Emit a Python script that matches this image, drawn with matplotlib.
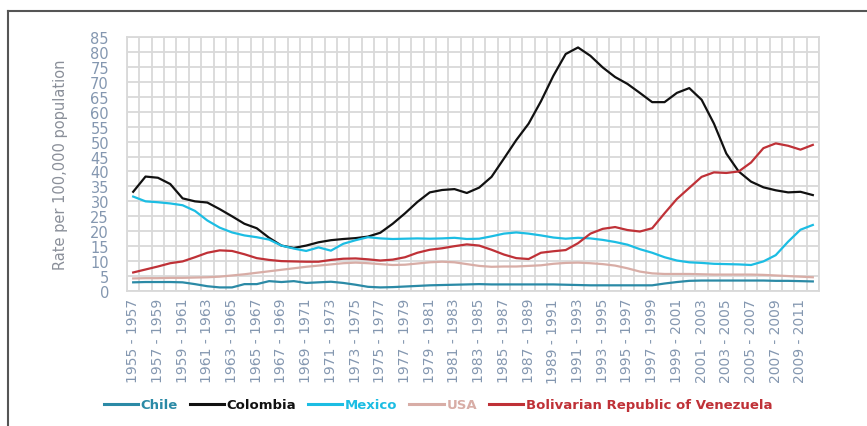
import numpy as np
import matplotlib
matplotlib.use("Agg")
import matplotlib.pyplot as plt
from matplotlib.lines import Line2D
from matplotlib.ticker import MultipleLocator, FixedLocator

period_starts = list(range(1955, 2011))
categories = [f"{s} - {s + 2}" for s in period_starts]

chile = [2.9, 3.0, 3.0, 3.0, 2.9, 2.3, 1.6, 1.2, 1.2, 2.3,
         2.3, 3.3, 3.0, 3.3, 2.7, 2.9, 3.1, 2.7, 2.1, 1.4,
         1.2, 1.3, 1.5, 1.7, 1.9, 2.0, 2.1, 2.2, 2.3, 2.2,
         2.2, 2.2, 2.2, 2.2, 2.2, 2.1, 2.0, 1.9, 1.9, 1.9,
         1.9, 1.9, 1.9, 2.5, 3.0, 3.4, 3.5, 3.5, 3.5, 3.5,
         3.5, 3.5, 3.4, 3.4, 3.3, 3.2]
colombia = [33.2, 38.3, 37.9, 35.8, 31.0, 30.0, 29.6, 27.4, 25.0, 22.5,
            21.0, 17.8, 15.2, 14.4, 15.2, 16.3, 17.0, 17.4, 17.7, 18.2,
            19.5, 22.5, 26.0, 29.8, 33.0, 33.8, 34.1, 32.8, 34.6, 38.2,
            44.3, 50.5, 56.0, 63.5, 72.0, 79.3, 81.5, 78.7, 74.8, 71.6,
            69.3, 66.3, 63.2, 63.2, 66.3, 67.9, 64.0, 56.0, 46.0, 40.0,
            36.6, 34.7, 33.7, 33.0, 33.2, 32.1]
mexico = [31.6, 30.0, 29.7, 29.3, 28.7, 26.8, 23.6, 21.2, 19.6, 18.6,
          18.0, 17.2, 15.2, 14.2, 13.4, 14.6, 13.5, 15.8, 17.0, 18.0,
          17.6, 17.4, 17.5, 17.6, 17.5, 17.6, 17.8, 17.4, 17.5, 18.3,
          19.2, 19.6, 19.2, 18.6, 17.9, 17.5, 17.8, 17.6, 17.1, 16.4,
          15.5, 14.0, 12.8, 11.3, 10.2, 9.6, 9.4, 9.1, 9.0, 8.9,
          8.7, 9.9, 12.0, 16.5, 20.5, 22.1]
usa = [4.2, 4.3, 4.3, 4.4, 4.4, 4.5, 4.6, 4.8, 5.2, 5.6,
       6.1, 6.6, 7.1, 7.6, 8.1, 8.5, 8.9, 9.3, 9.5, 9.3,
       9.0, 8.7, 8.8, 9.2, 9.6, 9.8, 9.6, 9.0, 8.4, 8.1,
       8.2, 8.2, 8.4, 8.6, 9.1, 9.4, 9.5, 9.3, 9.0, 8.5,
       7.6, 6.5, 5.9, 5.7, 5.7, 5.7, 5.6, 5.5, 5.5, 5.5,
       5.5, 5.4, 5.2, 5.0, 4.8, 4.6]
venezuela = [6.2, 7.2, 8.2, 9.3, 9.9, 11.3, 12.8, 13.6, 13.4, 12.3,
             11.0, 10.4, 10.0, 9.9, 9.8, 9.8, 10.4, 10.8, 10.9, 10.6,
             10.2, 10.5, 11.3, 12.8, 13.8, 14.3, 15.0, 15.6, 15.2, 13.8,
             12.2, 11.0, 10.7, 12.8, 13.3, 13.7, 16.0, 19.2, 20.8, 21.4,
             20.4, 19.9, 21.0, 26.0, 30.8, 34.5, 38.2, 39.7, 39.5, 40.0,
             43.0, 47.8, 49.4, 48.6, 47.3, 48.9]

series_names = ["Chile", "Colombia", "Mexico", "USA", "Bolivarian Republic of Venezuela"]
series_values = [chile, colombia, mexico, usa, venezuela]
series_colors = ["#2b8aa6", "#111111", "#1cbde3", "#d8ada6", "#bf3137"]

fig = plt.figure(figsize=(8.67, 4.27), dpi=100)
ax = fig.add_axes([127 / 867, 1 - 292 / 427, 692 / 867, 254 / 427])

x = np.arange(len(categories))
for name, vals, col in zip(series_names, series_values, series_colors):
    ax.plot(x, vals, color=col, lw=1.6, label=name, solid_joinstyle="round", zorder=3)

ax.set_xlim(-0.5, len(categories) - 0.5)
ax.set_ylim(0, 85)
ax.yaxis.set_major_locator(MultipleLocator(5))
ax.xaxis.set_major_locator(FixedLocator(x[::2]))
ax.set_xticklabels(categories[::2], rotation=90, fontsize=10, color="#8497b0")
ax.xaxis.set_minor_locator(FixedLocator(np.arange(-0.5, len(categories), 1.0)))
ax.tick_params(axis="x", which="both", length=0, pad=5)
ax.tick_params(axis="y", length=0, pad=13, labelsize=10.5, labelcolor="#8497b0")

grid_col = "#d9d9d9"
ax.grid(axis="y", which="major", color=grid_col, lw=1.3, zorder=0)
ax.grid(axis="x", which="minor", color=grid_col, lw=1.3, zorder=0)
ax.grid(axis="x", which="major", visible=False)
for sp in ax.spines.values():
    sp.set_color(grid_col)
    sp.set_linewidth(1.3)

ax.set_ylabel("Rate per 100,000 population", fontsize=10.5, color="#8a8f99")
ax.yaxis.set_label_coords(-0.085, 0.5)

handles, labels = ax.get_legend_handles_labels()
leg = fig.legend(handles, labels, loc="center", bbox_to_anchor=(438 / 867, 1 - 406 / 427),
                 ncol=5, frameon=False, handlelength=2.6, handletextpad=0.2,
                 columnspacing=0.9, prop={"size": 9.5, "weight": "bold"})
for txt, col in zip(leg.get_texts(), series_colors):
    txt.set_color(col)
for line in leg.get_lines():
    line.set_linewidth(2.2)

# outer frame (top and left edges visible)
fig.add_artist(Line2D([8 / 867, 8 / 867], [0, 1 - 12 / 427], transform=fig.transFigure,
                      color="#555555", lw=1.5))
fig.add_artist(Line2D([8 / 867, 1], [1 - 12 / 427, 1 - 12 / 427], transform=fig.transFigure,
                      color="#555555", lw=1.5))

fig.savefig("out.png", dpi=100)
